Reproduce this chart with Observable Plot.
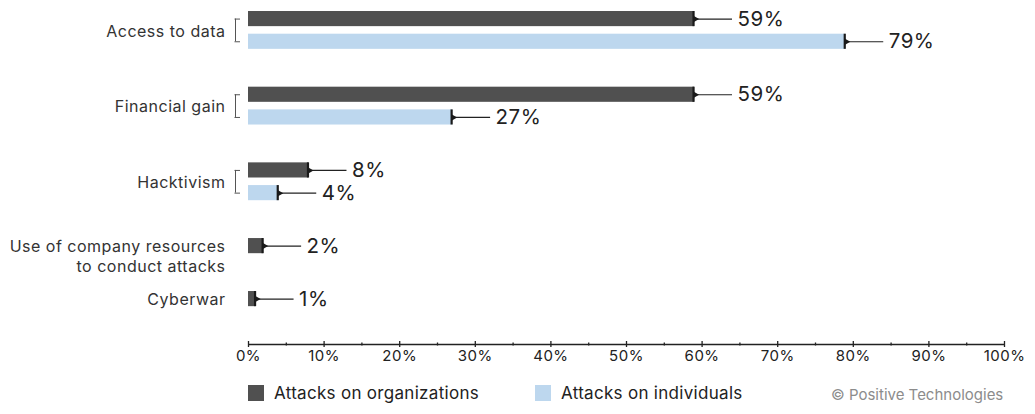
<!DOCTYPE html>
<html>
<head>
<meta charset="utf-8">
<script src="https://cdn.jsdelivr.net/npm/d3@7"></script>
<script src="https://cdn.jsdelivr.net/npm/@observablehq/plot@0.6"></script>
<style>
  html, body { margin: 0; padding: 0; background: #fff; }
  body { width: 1035px; height: 414px; overflow: hidden; font-family: "Inter", "Lato", sans-serif; }
  #chart svg text { letter-spacing: 0.5px; }
  #legend { position: relative; height: 42px; font-size: 17px; color: #222; letter-spacing: 0.3px; }
  .item { position: absolute; top: 0; height: 42px; display: flex; align-items: center; }
  .sw { width: 16px; height: 16px; margin-right: 10px; }
  .copy { position: absolute; left: 831px; top: 13px; font-size: 15px; color: #8c8c8c; white-space: nowrap; letter-spacing: 0; }
</style>
</head>
<body>
<div id="chart"></div>
<div id="legend"></div>
<script>
// ---- data ----
const categories = [
  "Access to data",
  "Financial gain",
  "Hacktivism",
  "Use of company resources\nto conduct attacks",
  "Cyberwar"
];
const organizations = [59, 59, 8, 2, 1];
const individuals = [79, 27, 4, null, null];
const seriesNames = ["Attacks on organizations", "Attacks on individuals"];
const majorTicks = [0, 10, 20, 30, 40, 50, 60, 70, 80, 90, 100];
const minorTicks = [5, 15, 25, 35, 45, 55, 65, 75, 85, 95];
const copyright = "© Positive Technologies";

// ---- styling ----
const colors = ["#505050", "#bdd7ee"];
const FONT = "Inter, Lato, sans-serif";

// ---- layout (in row units) ----
const BAR = 2, GAP = 1, GROUP_GAP = 4, AXIS_POS = 44;
const rows = [], groups = [];
let pos = 0;
categories.forEach((cat, i) => {
  const vals = [organizations[i], individuals[i]];
  const start = pos;
  let n = 0;
  vals.forEach((v, s) => {
    if (v == null) return;
    rows.push({cat, series: s, value: v, y1: pos, y2: pos + BAR, yc: pos + BAR / 2});
    pos += BAR + GAP;
    n++;
  });
  const last = pos - GAP;
  groups.push({cat, n, first: start, last, center: (start + last) / 2,
    lines: cat.split("\n")});
  pos += GROUP_GAP;
});
const brackets = groups.filter(g => g.n > 1);
const bracketEnds = brackets.flatMap(g => [g.first + BAR / 2, g.last - BAR / 2]);

const W = 1035, H = 372;
const chart = Plot.plot({
  width: W,
  height: H,
  marginLeft: 248,
  marginRight: 31,
  marginTop: 11,
  marginBottom: H - 344,
  style: {fontFamily: FONT, background: "#fff"},
  x: {domain: [0, 100], axis: null},
  y: {domain: [0, AXIS_POS], reverse: true, axis: null},
  marks: [
    // bars
    Plot.rectX(rows, {x1: 0, x2: "value", y1: "y1", y2: "y2", fill: d => colors[d.series]}),
    // leader lines
    Plot.ruleY(rows, {y: "yc", x1: "value", x2: "value", insetRight: -38, stroke: "#222", strokeWidth: 1.2}),
    // end markers
    Plot.ruleX(rows, {x: "value", y1: "y1", y2: "y2", stroke: "#1a1a1a", strokeWidth: 2.2, dx: -1}),
    Plot.dot(rows, {x: "value", y: "yc", symbol: "triangle", rotate: 90, r: 2.6, fill: "#1a1a1a", dx: 0.5}),
    // value labels
    Plot.text(rows, {x: "value", y: "yc", text: d => d.value + "%", dx: 43, textAnchor: "start",
      fontSize: 20.5, fill: "#222"}),
    // category labels
    Plot.text(groups, {x: 0, y: "center", text: d => d.lines[0], dx: -23, dy: 1, textAnchor: "end",
      fontSize: 16, fill: "#333"}),
    Plot.text(groups.filter(g => g.lines.length > 1), {x: 0, y: "center", text: d => d.lines[1], dx: -23, dy: 21,
      textAnchor: "end", fontSize: 16, fill: "#333"}),
    // brackets
    Plot.ruleX(brackets, {x: 0, y1: d => d.first + BAR / 2, y2: d => d.last - BAR / 2, dx: -13, stroke: "#555", strokeWidth: 1}),
    Plot.ruleY(bracketEnds, {y: d => d, x1: 0, x2: 0, insetLeft: -13.5, insetRight: 8, stroke: "#555", strokeWidth: 1}),
    // axis
    Plot.ruleY([AXIS_POS], {stroke: "#222", strokeWidth: 1.3}),
    Plot.ruleX(majorTicks, {x: d => d, y1: AXIS_POS, y2: AXIS_POS, insetTop: -3, insetBottom: -3, stroke: "#222", strokeWidth: 1.3}),
    Plot.ruleX(minorTicks, {x: d => d, y1: AXIS_POS, y2: AXIS_POS, insetTop: -1.5, insetBottom: -1.5, stroke: "#222", strokeWidth: 1.3}),
    Plot.text(majorTicks, {x: d => d, y: AXIS_POS, text: d => d + "%", dy: 12, lineAnchor: "middle",
      fontSize: 15, fill: "#222"})
  ]
});
document.getElementById("chart").appendChild(chart);

// legend
const legend = document.getElementById("legend");
const lefts = [248, 535];
seriesNames.forEach((name, i) => {
  const it = document.createElement("div");
  it.className = "item";
  it.style.left = lefts[i] + "px";
  const sw = document.createElement("div");
  sw.className = "sw";
  sw.style.background = colors[i];
  const tx = document.createElement("span");
  tx.textContent = name;
  it.appendChild(sw);
  it.appendChild(tx);
  legend.appendChild(it);
});
const cp = document.createElement("div");
cp.className = "copy";
cp.textContent = copyright;
legend.appendChild(cp);
</script>
</body>
</html>
